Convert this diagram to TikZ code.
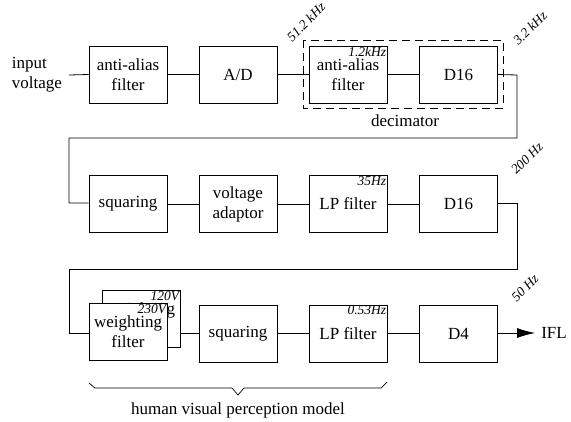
\documentclass[tikz,border=0pt]{standalone}
\usepackage{fontspec}
\setmainfont{Liberation Serif}
\usetikzlibrary{arrows.meta}
\tikzset{
  blk/.style={draw, line width=0.8pt, fill=white, minimum width=78pt, minimum height=57pt, inner sep=0pt, align=center, font=\fontsize{17}{20}\selectfont},
  conn/.style={line width=0.8pt},
  freq/.style={font=\fontsize{13.5}{15}\selectfont\itshape, inner sep=1pt},
  rate/.style={font=\fontsize{13.5}{16}\selectfont\itshape, rotate=45, inner sep=0pt},
  lbl/.style={font=\fontsize{17}{20}\selectfont, align=left, inner sep=0pt}
}
\begin{document}
\begin{tikzpicture}[x=1pt,y=-1pt]
\useasboundingbox (0,0) rectangle (571,421);
% row 1
\node[blk] (aaf) at (128,74.5) {anti-alias\\filter};
\node[blk] (ad) at (238,74.5) {A/D};
\node[blk] (aaf2) at (348,74.5) {anti-alias\\filter};
\node[blk] (d16a) at (458.5,74.5) {D16};
\node[lbl] (in) at (37,75) {input\\voltage};
\coordinate (inS) at (69,75);
\node[freq, anchor=north east] (f1) at (aaf2.north east) {1.2kHz};
\draw[line width=0.8pt, dash pattern=on 8pt off 5pt] (303,40) rectangle (503,108);
\node[lbl] (dec) at (405,121) {decimator};
\node[rate] (r1) at (306,22) {51.2 kHz};
\node[rate] (r2) at (530,28) {3.2 kHz};
% row 2
\node[blk] (sq1) at (128,204) {squaring};
\node[blk] (va) at (238,204) {voltage\\adaptor};
\node[blk] (lp1) at (348,204) {LP filter};
\node[blk] (d16b) at (458.5,204) {D16};
\node[freq, anchor=north east] (f2) at (lp1.north east) {35Hz};
\node[rate] (r3) at (527,158) {200 Hz};
% row 3
\node[blk] (wfb) at (141,319) {weighting\\filter};
\node[freq, anchor=north east] (f3) at (wfb.north east) {120V};
\node[blk] (wf) at (128,332) {weighting\\filter};
\node[freq, anchor=north east] (f4) at (wf.north east) {230V};
\node[blk] (sq2) at (238,333.5) {squaring};
\node[blk] (lp2) at (348,333.5) {LP filter};
\node[blk] (d4) at (458.5,333.5) {D4};
\node[freq, anchor=north east] (f5) at (lp2.north east) {0.53Hz};
\node[rate] (r4) at (525,288) {50 Hz};
\node[lbl] (ifl) at (554,333) {IFL};
\coordinate (arrE) at (535,333);
% connectors
\draw[conn] (inS) -- (aaf.west);
\draw[conn] (aaf.east) -- (ad.west);
\draw[conn] (ad.east) -- (aaf2.west);
\draw[conn] (aaf2.east) -- (d16a.west);
\coordinate (c1) at (517,75);
\coordinate (c2) at (517,138);
\coordinate (c3) at (69,138);
\coordinate (c4) at (69,203);
\draw[conn] (d16a.east) -- (c1) -- (c2) -- (c3) -- (c4) -- (sq1.west |- c4);
\draw[conn] (sq1.east) -- (va.west);
\draw[conn] (va.east) -- (lp1.west);
\draw[conn] (lp1.east) -- (d16b.west);
\coordinate (e1) at (517,203);
\coordinate (e2) at (517,269);
\coordinate (e3) at (69,269);
\coordinate (e4) at (69,333);
\draw[conn] (d16b.east |- e1) -- (e1) -- (e2) -- (e3) -- (e4) -- (wf.west |- e4);
\draw[conn] (wfb.east |- e4) -- (sq2.west |- e4);
\draw[conn] (sq2.east |- e4) -- (lp2.west |- e4);
\draw[conn] (lp2.east |- e4) -- (d4.west |- e4);
\draw[conn, -{Latex[length=18pt,width=10pt]}] (d4.east |- e4) -- (arrE);
% brace
\node[lbl] (hv) at (238,410) {human visual perception model};
\draw[line width=0.7pt] (89,383) -- (95,388) -- (232,388) -- (238,395) -- (244,388) -- (381,388) -- (387,382);
\end{tikzpicture}
\end{document}
